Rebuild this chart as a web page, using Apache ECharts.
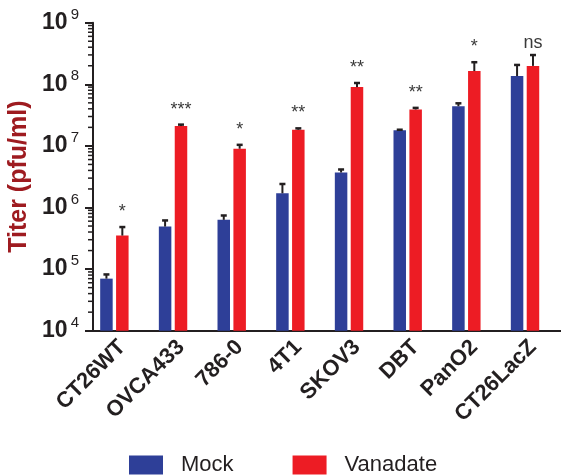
<!DOCTYPE html>
<html>
<head>
<meta charset="utf-8">
<title>Titer</title>
<script src="https://cdn.jsdelivr.net/npm/echarts@6/dist/echarts.min.js"></script>
<style>
  html, body { margin: 0; padding: 0; background: #fff; }
  #chart { width: 561px; height: 475px; }
</style>
</head>
<body>
<div id="chart"></div>
<script>
// values (pfu/ml)
const categories = ['CT26WT', 'OVCA433', '786-0', '4T1', 'SKOV3', 'DBT', 'PanO2', 'CT26LacZ'];
const mock = [7.0e4, 4.9e5, 6.3e5, 1.7e6, 3.7e6, 1.8e7, 4.4e7, 1.36e8];
const mockUpper = [8.5e4, 6.4e5, 7.7e5, 2.5e6, 4.3e6, 1.9e7, 5.1e7, 2.14e8];
const vanadate = [3.5e5, 2.1e7, 9.0e6, 1.83e7, 9.0e7, 3.9e7, 1.64e8, 1.99e8];
const vanadateUpper = [5.0e5, 2.3e7, 1.08e7, 2.0e7, 1.09e8, 4.3e7, 2.37e8, 3.1e8];
const significance = ['*', '***', '*', '**', '**', '**', '*', 'ns'];
const decades = [1e4, 1e5, 1e6, 1e7, 1e8];
const minorSteps = [2, 3, 4, 5, 6, 7, 8, 9];

const minorTicks = [];
decades.forEach(d => minorSteps.forEach(m => minorTicks.push([0, d * m])));

const BLUE = '#2e3f98';
const RED = '#ed1c24';
const INK = '#231f20';
const FONT = 'Liberation Sans, Arial, sans-serif';
const BAR_W = 12.5;
const BAR_GAP = 3.4;

const chart = echarts.init(document.getElementById('chart'), null, { renderer: 'canvas' });

function errorBar(offset) {
    return function (params, api) {
        const i = api.value(0);
        const base = api.coord([i, api.value(1)]);
        const top = api.coord([i, api.value(2)]);
        const x = base[0] + offset;
        return {
            type: 'group',
            children: [
                { type: 'line', shape: { x1: x, y1: base[1], x2: x, y2: top[1] + 1 },
                  style: { stroke: INK, lineWidth: 2 } },
                { type: 'line', shape: { x1: x - 3, y1: top[1] + 1, x2: x + 3, y2: top[1] + 1 },
                  style: { stroke: INK, lineWidth: 2.5 } }
            ]
        };
    };
}

chart.setOption({
    animation: false,
    grid: { left: 93, top: 22.7, width: 469.3, height: 308, containLabel: false, outerBoundsMode: 'none' },
    legend: {
        data: ['Mock', 'Vanadate'],
        left: 129, top: 454,
        itemWidth: 34, itemHeight: 19, itemGap: 59,
        padding: 0,
        icon: 'rect',
        textStyle: { fontSize: 22, color: INK, fontFamily: FONT, padding: [0, 0, 0, 13] }
    },
    xAxis: {
        type: 'category',
        data: categories,
        axisLine: { lineStyle: { color: INK, width: 2 } },
        axisTick: { alignWithLabel: true, length: 7, lineStyle: { color: INK, width: 2 } },
        axisLabel: { interval: 0, rotate: 45, margin: 13, fontSize: 22, fontWeight: 'bold',
                     color: INK, fontFamily: FONT }
    },
    yAxis: {
        type: 'log',
        logBase: 10,
        min: 1e4,
        max: 1e9,
        splitNumber: 5,
        name: 'Titer (pfu/ml)',
        nameLocation: 'middle',
        nameGap: 53,
        nameTextStyle: { color: '#9e1b20', fontSize: 25, fontWeight: 'bold', fontFamily: FONT },
        splitLine: { show: false },
        axisLine: { show: true, lineStyle: { color: INK, width: 2 } },
        axisTick: { show: true, length: 8, lineStyle: { color: INK, width: 2 } },
        axisLabel: {
            margin: 14,
            formatter: v => '{b|10}{e|' + Math.round(Math.log10(v)) + '}',
            rich: {
                b: { fontSize: 23, fontWeight: 'bold', color: INK, fontFamily: FONT },
                e: { fontSize: 15, color: INK, fontFamily: FONT, padding: [0, 0, 16, 3] }
            }
        }
    },
    series: [
        { name: 'Mock', type: 'bar', data: mock, barWidth: BAR_W, barGap: (BAR_GAP / BAR_W * 100) + '%',
          itemStyle: { color: BLUE } },
        { name: 'Vanadate', type: 'bar', data: vanadate, barWidth: BAR_W,
          itemStyle: { color: RED } },
        // empty third slot so the Vanadate bar sits on the category tick, as in the figure
        { name: 'spacer', type: 'bar', data: categories.map(() => '-'), barWidth: BAR_W },
        { type: 'custom', data: categories.map((c, i) => [i, mock[i], mockUpper[i]]),
          renderItem: errorBar(-(BAR_W + BAR_GAP)), z: 3 },
        { type: 'custom', data: categories.map((c, i) => [i, vanadate[i], vanadateUpper[i]]),
          renderItem: errorBar(0), z: 3 },
        { type: 'custom', data: categories.map((c, i) => [i, vanadateUpper[i]]), z: 3,
          renderItem: (params, api) => {
              const p = api.coord([api.value(0), api.value(1)]);
              const txt = significance[params.dataIndex];
              return { type: 'text', x: p[0], y: p[1] - (txt === 'ns' ? 2 : 5),
                       style: { text: txt, fill: '#3a3a3a', fontSize: 18, fontFamily: FONT,
                                align: 'center', verticalAlign: 'bottom' } };
          } },
        // log-spaced minor ticks on the y axis
        { type: 'custom', data: minorTicks, z: 3, clip: false,
          renderItem: (params, api) => {
              const p = api.coord([0, api.value(1)]);
              const x0 = params.coordSys.x;
              return { type: 'line', shape: { x1: x0 - 5, y1: p[1], x2: x0, y2: p[1] },
                       style: { stroke: INK, lineWidth: 1.5 } };
          } }
    ]
});
</script>
</body>
</html>
